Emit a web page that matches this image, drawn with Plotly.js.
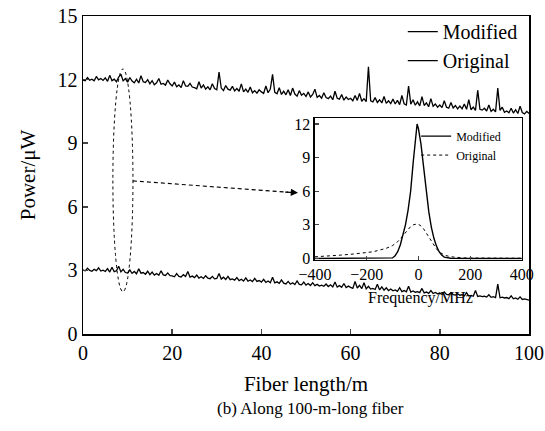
<!DOCTYPE html>
<html>
<head>
<meta charset="utf-8">
<script src="https://cdn.plot.ly/plotly-3.0.1.min.js"></script>
<style>html,body{margin:0;padding:0;background:#fff;}#chart{width:545px;height:431px;}</style>
</head>
<body>
<div id="chart"></div>
<script>
// Fiber length samples (m), 0.5 m spacing
const fiberLength = [
0,0.5,1,1.5,2,2.5,3,3.5,4,4.5,5,5.5,6,6.5,7,7.5,8,8.5,9,9.5,
10,10.5,11,11.5,12,12.5,13,13.5,14,14.5,15,15.5,16,16.5,17,17.5,18,18.5,19,19.5,
20,20.5,21,21.5,22,22.5,23,23.5,24,24.5,25,25.5,26,26.5,27,27.5,28,28.5,29,29.5,
30,30.5,31,31.5,32,32.5,33,33.5,34,34.5,35,35.5,36,36.5,37,37.5,38,38.5,39,39.5,
40,40.5,41,41.5,42,42.5,43,43.5,44,44.5,45,45.5,46,46.5,47,47.5,48,48.5,49,49.5,
50,50.5,51,51.5,52,52.5,53,53.5,54,54.5,55,55.5,56,56.5,57,57.5,58,58.5,59,59.5,
60,60.5,61,61.5,62,62.5,63,63.5,64,64.5,65,65.5,66,66.5,67,67.5,68,68.5,69,69.5,
70,70.5,71,71.5,72,72.5,73,73.5,74,74.5,75,75.5,76,76.5,77,77.5,78,78.5,79,79.5,
80,80.5,81,81.5,82,82.5,83,83.5,84,84.5,85,85.5,86,86.5,87,87.5,88,88.5,89,89.5,
90,90.5,91,91.5,92,92.5,93,93.5,94,94.5,95,95.5,96,96.5,97,97.5,98,98.5,99,99.5,100];

const powerModified = [
11.98,11.95,12.10,11.97,12.02,11.94,12.15,11.99,12.05,11.96,
12.08,11.92,12.20,11.95,12.02,11.90,12.12,12.25,11.94,12.05,
11.88,12.10,11.93,11.85,12.02,11.84,12.18,11.90,11.86,12.00,
11.80,11.95,11.76,11.85,12.05,11.78,11.82,11.74,11.98,11.80,
11.70,11.88,11.66,11.75,11.62,11.95,11.70,11.68,11.82,11.65,
11.62,11.57,11.90,11.60,11.75,11.55,11.66,11.52,11.80,11.58,
11.52,12.35,11.60,11.48,11.72,11.55,11.50,11.68,11.47,11.58,
11.45,11.80,11.42,11.55,11.40,11.65,11.38,11.48,11.36,11.52,
11.42,11.35,11.70,11.38,11.55,12.25,11.40,11.33,11.62,11.30,
11.45,11.28,11.52,11.25,11.60,11.32,11.22,11.48,11.26,11.35,
11.20,11.42,11.18,11.30,11.55,11.16,11.25,11.12,11.38,11.15,
11.10,11.22,11.05,11.45,11.12,11.08,11.30,11.03,11.18,11.06,
11.12,11.00,11.25,11.02,11.35,10.98,11.10,10.96,12.60,11.00,
10.95,11.15,10.92,11.05,10.90,11.20,10.88,11.00,10.87,11.08,
10.85,11.02,10.82,11.25,10.86,10.80,11.70,10.84,11.05,10.79,
10.95,10.76,11.20,10.78,10.90,10.72,11.10,10.74,10.85,10.70,
10.80,10.68,11.00,10.70,10.65,10.92,10.66,10.78,10.62,10.75,
10.62,10.85,10.60,11.05,10.58,10.70,10.55,11.50,10.60,10.56,
10.65,10.52,10.80,10.50,10.60,10.48,11.60,10.55,10.70,10.46,
10.52,10.44,10.65,10.42,10.58,10.40,10.75,10.45,10.38,10.50,10.40];

const powerOriginal = [
3.02,2.98,3.10,3.00,2.96,3.05,2.99,3.12,2.97,3.01,
2.95,3.08,2.92,3.15,2.94,2.98,3.20,2.93,3.05,2.90,
2.88,3.02,2.86,2.95,2.84,3.08,2.87,2.90,2.82,2.96,
2.80,2.92,2.78,2.85,2.77,2.98,2.79,2.76,2.88,2.75,
2.74,2.70,2.85,2.72,2.69,2.80,2.71,2.95,2.68,2.73,
2.66,2.78,2.64,2.70,2.62,2.75,2.63,2.61,2.72,2.60,
2.62,2.85,2.59,2.68,2.57,2.72,2.56,2.60,2.54,2.66,
2.52,2.58,2.50,2.65,2.49,2.55,2.47,2.62,2.48,2.52,
2.45,2.58,2.43,2.50,2.42,2.68,2.41,2.46,2.39,2.55,
2.40,2.36,2.48,2.35,2.42,2.33,2.50,2.34,2.32,2.45,
2.31,2.38,2.29,2.42,2.28,2.34,2.26,2.30,2.25,2.36,
2.24,2.32,2.22,2.45,2.21,2.28,2.20,2.38,2.19,2.26,
2.20,2.15,2.48,2.17,2.30,2.14,2.42,2.13,2.25,2.12,
2.15,2.10,2.35,2.08,2.22,2.07,2.18,2.05,2.12,2.04,
2.08,2.01,2.18,2.00,2.05,1.99,2.25,1.98,2.03,1.97,
2.00,1.95,2.15,1.94,1.98,1.92,2.05,1.91,1.96,1.90,
1.92,1.88,1.98,1.87,1.85,1.95,1.86,1.84,1.90,1.83,
1.85,1.80,1.95,1.79,1.82,1.78,2.05,1.77,1.80,1.76,
1.78,1.74,1.85,1.73,1.76,1.72,2.35,1.71,1.74,1.70,
1.72,1.67,1.80,1.66,1.70,1.64,1.75,1.63,1.66,1.62,1.60];

// Inset spectrum
const frequency = [-400,-350,-300,-250,-200,-175,-150,-125,-100,-90,-80,-70,-60,-50,-40,-30,-20,-10,-5,0,10,20,30,40,50,60,70,80,90,100,125,150,175,200,250,300,350,400];
const spectrumModified = [0,0,0,0,0,0,0,0,0.05,0.25,0.6,1.2,2.0,3.0,4.3,6.0,8.6,11.2,12.0,11.6,10.2,8.2,6.0,4.2,2.8,1.8,1.1,0.6,0.3,0.12,0.02,0,0,0,0,0,0,0];
const spectrumOriginal = [0.15,0.2,0.3,0.4,0.5,0.6,0.75,0.9,1.15,1.3,1.5,1.75,2.05,2.35,2.65,2.85,3.0,3.08,3.08,3.05,2.9,2.65,2.3,1.9,1.5,1.15,0.85,0.6,0.42,0.3,0.15,0.08,0.05,0.04,0.03,0.03,0.02,0.02];

const seriesNames = ['Modified','Original'];

const FONT = 'Liberation Serif, Times New Roman, serif';

const traces = [
  {x: fiberLength, y: powerModified, name: seriesNames[0], type: 'scatter', mode: 'lines',
   line: {color: '#000', width: 1.3}, xaxis: 'x', yaxis: 'y', legend: 'legend'},
  {x: fiberLength, y: powerOriginal, name: seriesNames[1], type: 'scatter', mode: 'lines',
   line: {color: '#000', width: 1.3}, xaxis: 'x', yaxis: 'y', legend: 'legend'},
  {x: frequency, y: spectrumModified, name: seriesNames[0], type: 'scatter', mode: 'lines',
   line: {color: '#000', width: 1.4}, xaxis: 'x2', yaxis: 'y2', legend: 'legend2'},
  {x: frequency, y: spectrumOriginal, name: seriesNames[1], type: 'scatter', mode: 'lines',
   line: {color: '#000', width: 1, dash: 'dot'}, xaxis: 'x2', yaxis: 'y2', legend: 'legend2'}
];

const layout = {
  width: 545, height: 431,
  margin: {l: 83, r: 16, t: 14, b: 97},
  paper_bgcolor: '#fff', plot_bgcolor: '#fff',
  font: {family: FONT, color: '#000', size: 20},
  showlegend: true,
  xaxis: {
    range: [0, 100], tickvals: [0,20,40,60,80,100], ticks: 'inside', ticklen: 5, tickwidth: 1.5,
    showline: true, mirror: true, linewidth: 1.5, linecolor: '#000', showgrid: false, zeroline: false,
    tickfont: {family: FONT, size: 20},
    title: {text: 'Fiber length/m', font: {family: FONT, size: 21}, standoff: 14}
  },
  yaxis: {
    range: [0, 15], tickvals: [0,3,6,9,12,15], ticks: 'inside', ticklen: 5, tickwidth: 1.5,
    showline: true, mirror: true, linewidth: 1.5, linecolor: '#000', showgrid: false, zeroline: false,
    tickfont: {family: FONT, size: 20},
    title: {text: 'Power/μW', font: {family: FONT, size: 21}, standoff: 16}
  },
  xaxis2: {
    domain: [0.520, 0.984], anchor: 'y2', range: [-400, 400], tickvals: [-400,-200,0,200,400],
    ticktext: ['\u2212400','\u2212200','0','200','400'],
    ticks: 'inside', ticklen: 4, tickwidth: 1.2,
    showline: true, mirror: true, linewidth: 1.5, linecolor: '#000', showgrid: false, zeroline: false,
    tickfont: {family: FONT, size: 16}
  },
  yaxis2: {
    domain: [0.234, 0.678], anchor: 'x2', range: [-0.1, 12.5], tickvals: [0,3,6,9,12],
    ticks: 'inside', ticklen: 4, tickwidth: 1.2,
    showline: true, mirror: true, linewidth: 1.5, linecolor: '#000', showgrid: false, zeroline: false,
    tickfont: {family: FONT, size: 16}
  },
  legend: {
    x: 0.717, y: 1.012, xanchor: 'left', yanchor: 'top', bgcolor: 'rgba(0,0,0,0)',
    font: {family: FONT, size: 20}, tracegroupgap: 0
  },
  legend2: {
    x: 0.747, y: 0.668, xanchor: 'left', yanchor: 'top', bgcolor: 'rgba(0,0,0,0)',
    font: {family: FONT, size: 12}, tracegroupgap: 0
  },
  shapes: [
    {type: 'circle', xref: 'x', yref: 'y', x0: 6.7, x1: 11.2, y0: 2.0, y1: 12.5,
     line: {color: '#000', width: 1, dash: 'dot'}},
    {type: 'line', xref: 'x', yref: 'y', x0: 11.2, y0: 7.22, x1: 46.0, y1: 6.69,
     line: {color: '#000', width: 1.2, dash: '4px,3px'}}
  ],
  annotations: [
    {xref: 'x', yref: 'y', x: 48.2, y: 6.66, axref: 'x', ayref: 'y', ax: 45.0, ay: 6.70,
     text: '', showarrow: true, arrowhead: 2, arrowsize: 1.2, arrowwidth: 1.2, arrowcolor: '#000'},
    {xref: 'paper', yref: 'paper', x: 0.757, y: (334 - 298) / 320, xanchor: 'center', yanchor: 'middle',
     text: 'Frequency/MHz', showarrow: false, font: {family: FONT, size: 16}},
    {xref: 'paper', yref: 'paper', x: (310 - 83) / 446, y: (334 - 409) / 320, xanchor: 'center', yanchor: 'middle',
     text: '(b) Along 100-m-long fiber', showarrow: false, font: {family: FONT, size: 17}}
  ]
};

Plotly.newPlot('chart', traces, layout, {displayModeBar: false, staticPlot: true});
</script>
</body>
</html>
